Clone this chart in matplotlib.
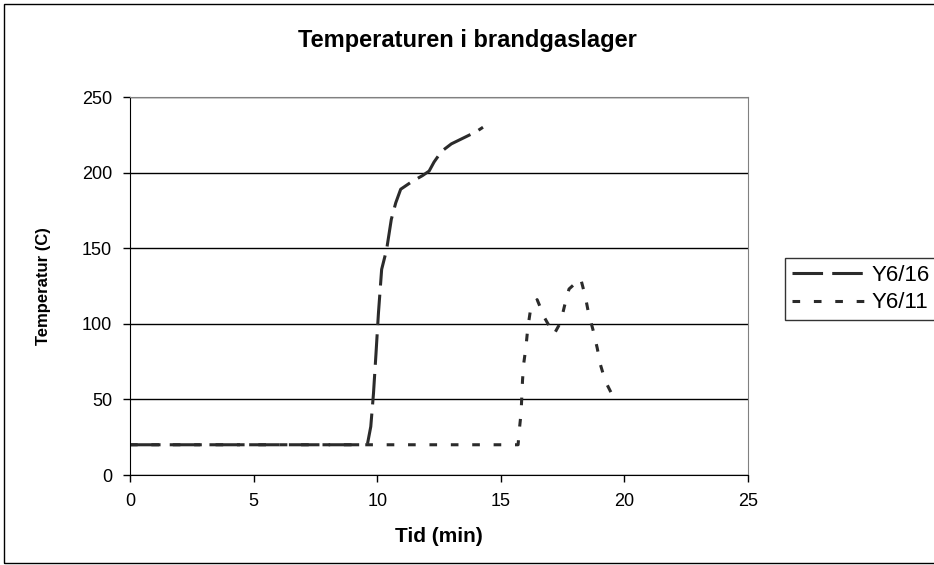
import matplotlib.pyplot as plt
from matplotlib.patches import Rectangle

plt.rcParams['font.family'] = ['Liberation Sans', 'DejaVu Sans']

# Y6/16
tid_16 = [0, 2, 4, 6, 8, 9.6, 9.74, 9.85, 9.95, 10.05, 10.18, 10.38, 10.57, 10.75, 10.95,
          11.4, 11.83, 12.1, 12.3, 12.6, 13.0, 13.5, 14.0, 14.28]
temp_16 = [20, 20, 20, 20, 20, 20, 32, 54, 80, 107, 136, 149, 169, 180, 189,
           194, 198, 201, 207, 214, 219, 223, 227, 230]

# Y6/11
tid_11 = [0, 4, 8, 12, 15.7, 15.75, 15.82, 15.85, 15.88, 15.93, 16.02, 16.09, 16.19, 16.47,
          16.77, 17.15, 17.42, 17.58, 17.76, 18.23, 18.42, 18.55, 18.73, 18.9, 19.03, 19.23, 19.6]
temp_11 = [20, 20, 20, 20, 20, 30, 41, 52, 63, 74, 85, 97, 108, 116,
           104, 93, 101, 112, 123, 130, 118, 107, 96, 84, 73, 62, 50]

xticks = [0, 5, 10, 15, 20, 25]
yticks = [0, 50, 100, 150, 200, 250]

W, H = 934, 565
fig = plt.figure(figsize=(W / 100, H / 100), dpi=100)
ax = fig.add_axes([130 / W, 1 - 475 / H, 618 / W, 378 / H])

ax.plot(tid_16, temp_16, color='#2b2b2b', lw=2.2, dashes=(10, 3), label='Y6/16')
ax.plot(tid_11, temp_11, color='#2b2b2b', lw=2.2, dashes=(2.5, 4.5), label='Y6/11')

ax.set_xlim(0, 25)
ax.set_ylim(0, 250)
ax.set_xticks(xticks)
ax.set_yticks(yticks)
ax.yaxis.grid(True, color='black', lw=1)
ax.set_axisbelow(True)
ax.spines['left'].set_color('black')
ax.spines['bottom'].set_color('black')
ax.spines['top'].set_color('#808080')
ax.spines['right'].set_color('#808080')
ax.tick_params(labelsize=13, length=5, width=1, color='black', pad=8)

ax.set_xlabel('Tid (min)', fontsize=15, fontweight='bold', labelpad=12)
ax.set_ylabel('Temperatur (C)', fontsize=12, fontweight='bold', labelpad=22)
fig.text(467 / W, 1 - 41 / H, 'Temperaturen i brandgaslager', ha='center', va='center',
         fontsize=17, fontweight='bold')

leg = ax.legend(loc='upper left', bbox_to_anchor=(785 / W, 1 - 258 / H),
                bbox_transform=fig.transFigure, fontsize=16, frameon=True,
                fancybox=False, handlelength=3.3, borderaxespad=0, borderpad=0.3,
                handletextpad=0.3, labelspacing=0.3)
leg.get_frame().set_edgecolor('black')
leg.get_frame().set_linewidth(1)

fig.patches.append(Rectangle((4 / W, 2 / H), 1.0, 1 - 6 / H, transform=fig.transFigure,
                             fill=False, edgecolor='black', lw=1))

fig.savefig('out.png', dpi=100)
